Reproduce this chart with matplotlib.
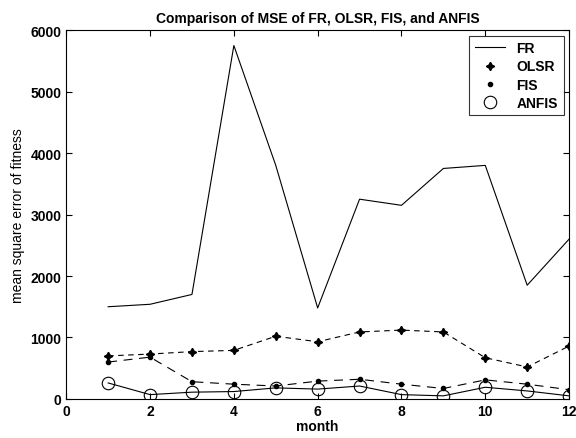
#! /usr/bin/env python3
import numpy as np
import matplotlib
matplotlib.use('agg')
import matplotlib.pyplot as plt

plt.rcParams['font.family'] = ['Liberation Sans', 'DejaVu Sans']

# Data
month = [1, 2, 3, 4, 5, 6, 7, 8, 9, 10, 11, 12]
mse_fr = [1500, 1540, 1700, 5750, 3800, 1480, 3250, 3150, 3750, 3800, 1850, 2600]
mse_olsr = [700, 730, 770, 790, 1020, 930, 1090, 1120, 1090, 670, 520, 860]
mse_fis = [600, 680, 280, 240, 210, 290, 320, 240, 170, 310, 240, 150]
mse_anfis = [260, 70, 110, 120, 180, 160, 210, 70, 50, 190, 130, 50]

fig = plt.figure(figsize=(5.76, 4.39), dpi=100)
ax = fig.add_axes([0.115, 0.089, 0.873, 0.84])

# lines
ax.plot(month, mse_fr, 'k-', lw=0.8, label='FR')
ax.plot(month, mse_olsr, 'k--', lw=0.8, dashes=(5, 4))
ax.plot(month, mse_fis, 'k--', lw=0.8, dashes=(8, 6))
ax.plot(month, mse_anfis, 'k-', lw=0.8)
# markers
ax.plot(month, mse_olsr, 'k', ls='none', marker=(4, 1, 0), ms=6, label='OLSR')
ax.plot(month, mse_fis, 'k.', ls='none', ms=6, label='FIS')
ax.plot(month, mse_anfis, 'o', ls='none', ms=9, mfc='none', mec='k', mew=0.8, label='ANFIS')

ax.set_xlim(0, 12)
ax.set_ylim(0, 6000)
ax.set_xticks([0, 2, 4, 6, 8, 10, 12])
ax.set_yticks([0, 1000, 2000, 3000, 4000, 5000, 6000])
ax.tick_params(direction='in', labelsize=10, length=4, top=True, right=True)
for lbl in ax.get_xticklabels() + ax.get_yticklabels():
	lbl.set_fontweight('bold')
ax.set_xlabel('month', fontsize=10, fontweight='bold', labelpad=1)
ax.set_ylabel('mean square error of fitness', fontsize=10)
ax.set_title('Comparison of MSE of FR, OLSR, FIS, and ANFIS', fontsize=10, fontweight='bold')

leg = ax.legend(loc='upper right', fancybox=False, edgecolor='k',
	prop={'weight': 'bold', 'size': 10}, borderaxespad=0.4, handlelength=2.2,
	labelspacing=0.3)
leg.get_frame().set_linewidth(0.8)

fig.savefig('out.png')
